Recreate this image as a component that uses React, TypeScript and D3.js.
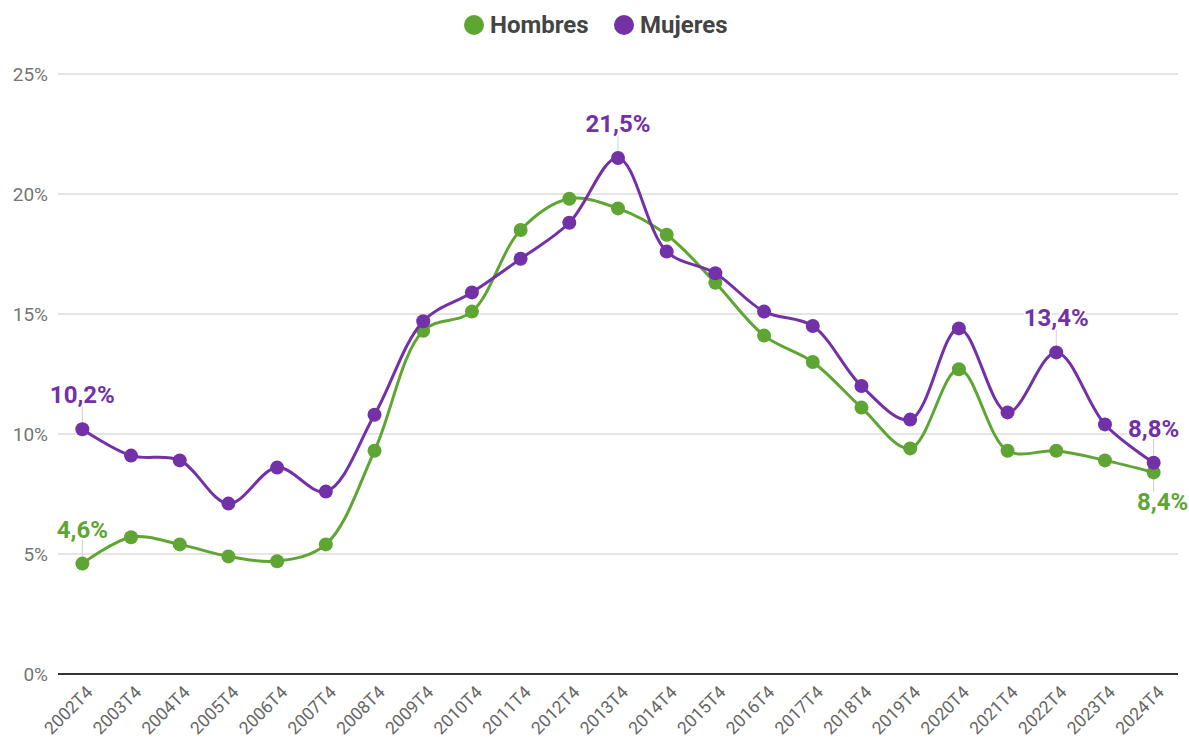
import React, { useEffect, useRef } from "react";
import * as d3 from "d3";

const categories = [
  "2002T4", "2003T4", "2004T4", "2005T4", "2006T4", "2007T4", "2008T4", "2009T4",
  "2010T4", "2011T4", "2012T4", "2013T4", "2014T4", "2015T4", "2016T4", "2017T4",
  "2018T4", "2019T4", "2020T4", "2021T4", "2022T4", "2023T4", "2024T4",
];
const hombres = [
  4.6, 5.7, 5.4, 4.9, 4.7, 5.4, 9.3, 14.3, 15.1, 18.5, 19.8, 19.4, 18.3, 16.3, 14.1,
  13.0, 11.1, 9.4, 12.7, 9.3, 9.3, 8.9, 8.4,
];
const mujeres = [
  10.2, 9.1, 8.9, 7.1, 8.6, 7.6, 10.8, 14.7, 15.9, 17.3, 18.8, 21.5, 17.6, 16.7, 15.1,
  14.5, 12.0, 10.6, 14.4, 10.9, 13.4, 10.4, 8.8,
];
const yTicks = [0, 5, 10, 15, 20, 25];
// indices that get a value label, and whether it sits below the point
const hombresLabels = [
  { i: 0, below: false, dx: 0 },
  { i: 22, below: true, dx: 9 },
];
const mujeresLabels = [
  { i: 0, below: false, dx: 0 },
  { i: 11, below: false, dx: 0 },
  { i: 20, below: false, dx: 0 },
  { i: 22, below: false, dx: 0 },
];

const GREEN = "#5fa533";
const PURPLE = "#7231a6";
const FONT = "Roboto, sans-serif";

export default function App() {
  const svgRef = useRef<SVGSVGElement>(null);
  const width = 1189;
  const height = 737;

  useEffect(() => {
    document.body.style.margin = "0";
    const svg = d3.select(svgRef.current);
    svg.selectAll("*").remove();

    const left = 58, right = 1178, top = 74, bottom = 674;

    const x = d3.scaleBand().domain(categories).range([left, right]);
    const cx = (c: string) => (x(c) as number) + x.bandwidth() / 2;
    const y = d3.scaleLinear().domain([0, 25]).range([bottom, top]);

    // gridlines
    svg
      .append("g")
      .selectAll("line")
      .data(yTicks.filter((t) => t > 0))
      .enter()
      .append("line")
      .attr("x1", left)
      .attr("x2", right)
      .attr("y1", (d) => y(d))
      .attr("y2", (d) => y(d))
      .attr("stroke", "#cccccc")
      .attr("stroke-width", 1.2);

    // baseline
    svg
      .append("line")
      .attr("x1", left)
      .attr("x2", right)
      .attr("y1", y(0))
      .attr("y2", y(0))
      .attr("stroke", "#333")
      .attr("stroke-width", 1.8);

    // y tick labels
    svg
      .append("g")
      .selectAll("text")
      .data(yTicks)
      .enter()
      .append("text")
      .attr("x", 48)
      .attr("y", (d) => y(d))
      .attr("dy", "0.35em")
      .attr("text-anchor", "end")
      .attr("font-family", FONT)
      .attr("font-size", 19)
      .attr("fill", "#757575")
      .text((d) => d + "%");

    // x tick labels
    svg
      .append("g")
      .selectAll("text")
      .data(categories)
      .enter()
      .append("text")
      .attr("transform", (d) => `translate(${cx(d) + 7},${y(0) + 15}) rotate(-45)`)
      .attr("text-anchor", "end")
      .attr("dy", "0.35em")
      .attr("font-family", FONT)
      .attr("font-size", 17.5)
      .attr("fill", "#666")
      .text((d) => d);

    const line = d3
      .line<number>()
      .x((_, i) => cx(categories[i]))
      .y((d) => y(d))
      .curve(d3.curveCatmullRom.alpha(0.5));

    const series = [
      { values: hombres, color: GREEN, labels: hombresLabels },
      { values: mujeres, color: PURPLE, labels: mujeresLabels },
    ];

    // label connectors behind the lines
    series.forEach((s) => {
      s.labels.forEach((l) => {
        const px = cx(categories[l.i]);
        const py = y(s.values[l.i]);
        svg
          .append("line")
          .attr("x1", px)
          .attr("x2", px)
          .attr("y1", py)
          .attr("y2", l.below ? py + 20 : py - 24)
          .attr("stroke", "#d0d0d0")
          .attr("stroke-width", 1);
      });
    });

    series.forEach((s) => {
      svg
        .append("path")
        .datum(s.values)
        .attr("fill", "none")
        .attr("stroke", s.color)
        .attr("stroke-width", 3)
        .attr("d", line);

      svg
        .append("g")
        .selectAll("circle")
        .data(s.values)
        .enter()
        .append("circle")
        .attr("cx", (_, i) => cx(categories[i]))
        .attr("cy", (d) => y(d))
        .attr("r", 7)
        .attr("fill", s.color);
    });

    // value labels
    series.forEach((s) => {
      s.labels.forEach((l) => {
        const px = cx(categories[l.i]);
        const py = y(s.values[l.i]);
        const ty = l.below ? py + 38 : py - 26;
        const txt = s.values[l.i].toFixed(1).replace(".", ",") + "%";
        svg
          .append("text")
          .attr("x", px + l.dx)
          .attr("y", ty)
          .attr("text-anchor", "middle")
          .attr("font-family", FONT)
          .attr("font-size", 24)
          .attr("font-weight", "bold")
          .attr("fill", s.color)
          .attr("stroke", "#fff")
          .attr("stroke-width", 4)
          .attr("paint-order", "stroke")
          .text(txt);
      });
    });

    // legend
    const legend = [
      { name: "Hombres", color: GREEN, x: 474 },
      { name: "Mujeres", color: PURPLE, x: 624 },
    ];
    legend.forEach((d) => {
      svg
        .append("circle")
        .attr("cx", d.x)
        .attr("cy", 25)
        .attr("r", 10)
        .attr("fill", d.color);
      svg
        .append("text")
        .attr("x", d.x + 16)
        .attr("y", 25)
        .attr("dy", "0.35em")
        .attr("font-family", FONT)
        .attr("font-size", 24)
        .attr("font-weight", "bold")
        .attr("fill", "#444")
        .text(d.name);
    });
  }, []);

  return <svg ref={svgRef} width={width} height={height} style={{ display: "block" }}></svg>;
}
